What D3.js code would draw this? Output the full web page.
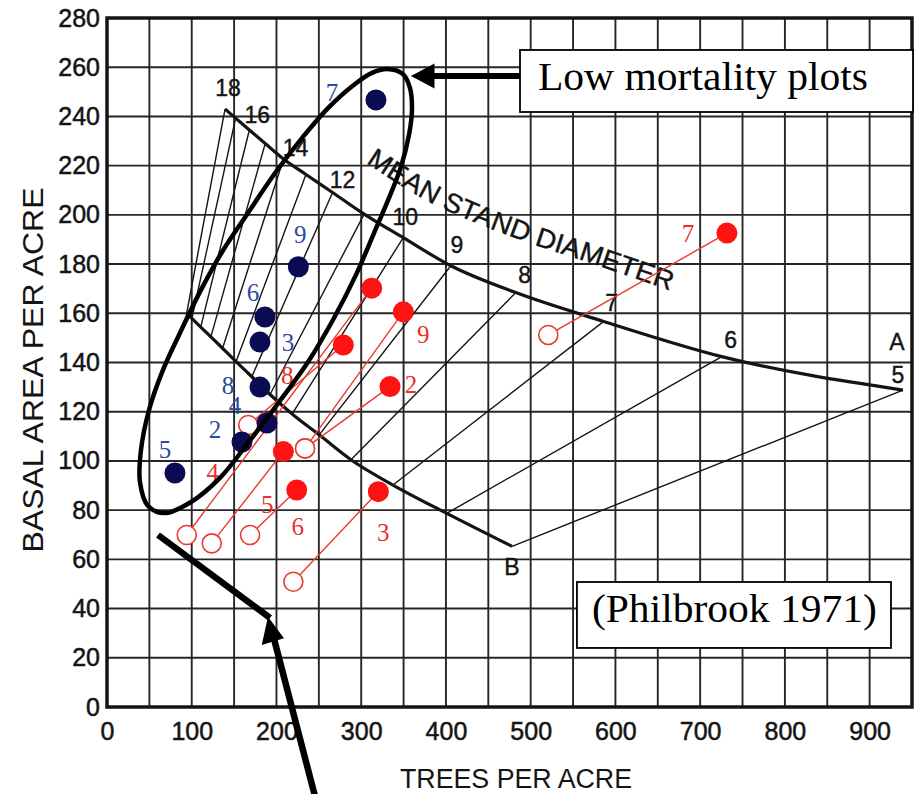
<!DOCTYPE html>
<html><head><meta charset="utf-8">
<script src="https://cdn.jsdelivr.net/npm/d3@7"></script>
<style>
html,body{margin:0;padding:0;background:#fff;}
svg{display:block;}
</style></head>
<body>
<svg id="chart" width="916" height="794"></svg>
<script>
// ---------- tick labels ----------
const xTicks = [0,100,200,300,400,500,600,700,800,900];
const yTicks = [0,20,40,60,80,100,120,140,160,180,200,220,240,260,280];

// ---------- stocking chart: mean stand diameter lines ----------
const diameters   = [5,6,7,8,9,10,11,12,13,14,15,16,17,18];
const upperTrees  = [939.3,725.5,586.2,482.4,405.8,349.6,303.5,266.2,234.8,208.3,186.7,168.0,151.8,139.3];
const upperBA     = [128.8,142.4,156.7,168.4,179.3,190.7,200.3,209.1,216.4,222.7,229.0,234.5,239.3,243.0];
const lowerTrees  = [478.0,401.0,337.5,287.9,250.4,218.5,192.4,170.9,152.3,136.4,122.6,110.6,100.2,94.0];
const lowerBA     = [65.3,78.7,90.2,100.5,110.6,119.1,127.0,134.2,140.4,145.8,150.4,154.4,157.9,160.0];
const labelledDiameters = [5,6,7,8,9,10,12,14,16,18];

// ---------- low mortality plots (blue) ----------
const bluePlots = ["7","9","6","3","8","4","2","5"];
const blueTrees = [317.4,225.8,186.4,180.5,180.5,188.8,159.3,80.2];
const blueBA    = [246.7,178.9,158.5,148.3,130.0,115.4,107.7,95.1];

// ---------- other plots (red): start (open) -> end (filled) ----------
const redPlots      = ["2","3","4","5","6","7","8","9"];
const redStartTrees = [233.7,219.9,94.1,123.6,168.8,520.8,166.7,233.7];
const redStartBA    = [105.1,50.9,69.9,66.5,69.9,151.2,114.6,105.1];
const redEndTrees   = [334.0,320.2,312.4,208.1,223.9,731.6,278.9,349.7];
const redEndBA      = [130.2,87.5,170.2,103.8,88.2,192.6,147.1,160.6];

// ---------- hand-drawn ellipse around low mortality plots ----------
const ellipseTrees = [330.4,349.3,357.6,359.9,356.4,346.9,332.8,315.1,293.8,267.9,237.2,203.0,166.4,133.3,99.1,68.4,48.4,38.9,40.1,49.6,66.1,86.1,109.7,135.7,166.4,199.4,230.1,260.8,292.7,312.7];
const ellipseBA    = [259.3,257.2,251.5,242.6,232.5,219.5,206.9,192.6,175.6,158.1,140.2,123.9,107.3,93.1,83.3,78.8,81.7,91.4,104.4,120.7,137.0,152.0,168.7,184.9,200.8,217.5,231.2,243.4,253.2,257.7];

// ---------- curved caption path ----------
const captionTrees = [305.6,382.1,489.5,572.5,667.9];
const captionBA    = [221.1,204.9,189.6,180.2,168.8];

// ---------- layout / style (not data) ----------
const W = 916, H = 794;
const sans = "'Liberation Sans', Arial, Helvetica, sans-serif";
const serif = "'Liberation Serif', 'Times New Roman', serif";
const ink = "#141414";
const blueDot = "#0b0b52", blueText = "#2c4a9e";
const redDot = "#ff1212", redLine = "#e83a30", redText = "#e8302c";

const blueLabelOffset = {"7":[-44,-7],"9":[2,-32],"6":[-12,-24],"3":[28,0],"8":[-32,-2],"4":[-32,-18],"2":[-27,-12],"5":[-10,-23]};
const redLabelOffset  = {"2":[21,-2],"3":[5,41],"4":[-159,184],"5":[-16,53],"6":[1,37],"7":[-39,0],"8":[-56,30],"9":[20,23]};
const diamLabelOffset = {18:[3,-21],16:[8,-15],14:[12,-11],12:[10,-12],10:[2,-21],9:[6,-21],8:[9,-18],7:[8,-18],6:[9,-17],5:[-5,-15]};

const svg = d3.select("#chart");
svg.append("rect").attr("width",W).attr("height",H).attr("fill","#fff");

const x = d3.scaleLinear().domain([0,950]).range([107,912]);
const y = d3.scaleLinear().domain([0,280]).range([707,18]);

// grid
const grid = svg.append("g").attr("stroke","#262626").attr("stroke-width",1.9);
grid.selectAll("line.gx").data(d3.range(50,950,50)).join("line")
  .attr("x1",d=>x(d)).attr("x2",d=>x(d)).attr("y1",y(0)).attr("y2",y(280));
grid.selectAll("line.gy").data(d3.range(20,280,20)).join("line")
  .attr("x1",x(0)).attr("x2",x(950)).attr("y1",d=>y(d)).attr("y2",d=>y(d));

// frame
svg.append("rect").attr("x",x(0)).attr("y",y(280)).attr("width",x(950)-x(0)).attr("height",y(0)-y(280))
  .attr("fill","none").attr("stroke",ink).attr("stroke-width",3.5);

// axes labels
const gx = svg.append("g").attr("transform",`translate(0,${y(0)})`)
  .call(d3.axisBottom(x).tickValues(xTicks).tickSize(0).tickPadding(15));
gx.select(".domain").remove();
gx.selectAll("text").attr("font-family",sans).attr("font-size",25).attr("fill",ink)
  .attr("stroke",ink).attr("stroke-width",0.5);

const gy = svg.append("g").attr("transform",`translate(${x(0)},0)`)
  .call(d3.axisLeft(y).tickValues(yTicks).tickSize(0).tickPadding(7));
gy.select(".domain").remove();
gy.selectAll("text").attr("font-family",sans).attr("font-size",25).attr("fill",ink)
  .attr("stroke",ink).attr("stroke-width",0.5);

svg.append("text").attr("x",516).attr("y",788).attr("text-anchor","middle")
  .attr("font-family",sans).attr("font-size",27).attr("fill",ink)
  .attr("textLength",232).attr("lengthAdjust","spacingAndGlyphs").text("TREES PER ACRE");
svg.append("text").attr("transform","translate(43,370) rotate(-90)").attr("text-anchor","middle")
  .attr("font-family",sans).attr("font-size",29).attr("fill",ink)
  .attr("textLength",365).attr("lengthAdjust","spacingAndGlyphs").text("BASAL AREA PER ACRE");

// diameter lines
const dl = diameters.map((d,i)=>({d, ut:upperTrees[i], ub:upperBA[i], lt:lowerTrees[i], lb:lowerBA[i]}));
svg.append("g").selectAll("line").data(dl).join("line")
  .attr("x1",d=>x(d.lt)).attr("y1",d=>y(d.lb)).attr("x2",d=>x(d.ut)).attr("y2",d=>y(d.ub))
  .attr("stroke",ink).attr("stroke-width",1.4);

// A-line and B-line
const line = d3.line().x(d=>x(d[0])).y(d=>y(d[1])).curve(d3.curveMonotoneX);
const aPts = dl.map(d=>[d.ut,d.ub]).sort((a,b)=>a[0]-b[0]);
const bPts = dl.map(d=>[d.lt,d.lb]).sort((a,b)=>a[0]-b[0]);
svg.append("path").attr("d",line(aPts)).attr("fill","none").attr("stroke",ink).attr("stroke-width",3.2);
svg.append("path").attr("d",line(bPts)).attr("fill","none").attr("stroke",ink).attr("stroke-width",3.2);

// diameter labels
svg.append("g").selectAll("text").data(dl.filter(d=>labelledDiameters.includes(d.d))).join("text")
  .attr("x",d=>x(d.ut)+diamLabelOffset[d.d][0]).attr("y",d=>y(d.ub)+diamLabelOffset[d.d][1])
  .attr("text-anchor","middle").attr("dominant-baseline","central")
  .attr("font-family",sans).attr("font-size",23).attr("fill",ink).attr("stroke",ink).attr("stroke-width",0.4).text(d=>d.d);
svg.append("text").attr("x",x(upperTrees[0])-6).attr("y",y(upperBA[0])-48).attr("text-anchor","middle")
  .attr("dominant-baseline","central").attr("font-family",sans).attr("font-size",23).attr("fill",ink)
  .attr("stroke",ink).attr("stroke-width",0.4).text("A");
svg.append("text").attr("x",x(lowerTrees[0])).attr("y",y(lowerBA[0])+21).attr("text-anchor","middle")
  .attr("dominant-baseline","central").attr("font-family",sans).attr("font-size",23).attr("fill",ink)
  .attr("stroke",ink).attr("stroke-width",0.4).text("B");

// curved caption
const capLine = d3.line().x(d=>x(d[0])).y(d=>y(d[1])).curve(d3.curveCatmullRom);
const capPath = svg.append("path").attr("id","capPath")
  .attr("d",capLine(captionTrees.map((t,i)=>[t,captionBA[i]]))).attr("fill","none").attr("stroke","none");
const capLen = capPath.node().getTotalLength();
svg.append("text").attr("font-family",sans).attr("font-size",27).attr("fill",ink)
  .attr("stroke",ink).attr("stroke-width",0.4)
  .append("textPath").attr("href","#capPath").attr("textLength",capLen*0.99).attr("lengthAdjust","spacingAndGlyphs")
  .text("MEAN STAND DIAMETER");

// red plots
const red = redPlots.map((p,i)=>({p, st:redStartTrees[i], sb:redStartBA[i], et:redEndTrees[i], eb:redEndBA[i]}));
svg.append("g").selectAll("line").data(red).join("line")
  .attr("x1",d=>x(d.st)).attr("y1",d=>y(d.sb)).attr("x2",d=>x(d.et)).attr("y2",d=>y(d.eb))
  .attr("stroke",redLine).attr("stroke-width",1.4);
svg.append("g").selectAll("circle").data(red).join("circle")
  .attr("cx",d=>x(d.st)).attr("cy",d=>y(d.sb)).attr("r",9.5)
  .attr("fill","#fff").attr("stroke",redLine).attr("stroke-width",1.6);
svg.append("g").selectAll("circle").data(red).join("circle")
  .attr("cx",d=>x(d.et)).attr("cy",d=>y(d.eb)).attr("r",10.5).attr("fill",redDot);
svg.append("g").selectAll("text").data(red).join("text")
  .attr("x",d=>x(d.et)+redLabelOffset[d.p][0]).attr("y",d=>y(d.eb)+redLabelOffset[d.p][1])
  .attr("text-anchor","middle").attr("dominant-baseline","central")
  .attr("font-family",serif).attr("font-size",25).attr("fill",redText).text(d=>d.p);

// blue plots
const blue = bluePlots.map((p,i)=>({p, t:blueTrees[i], b:blueBA[i]}));
svg.append("g").selectAll("circle").data(blue).join("circle")
  .attr("cx",d=>x(d.t)).attr("cy",d=>y(d.b)).attr("r",10.5).attr("fill",blueDot);
svg.append("g").selectAll("text").data(blue).join("text")
  .attr("x",d=>x(d.t)+blueLabelOffset[d.p][0]).attr("y",d=>y(d.b)+blueLabelOffset[d.p][1])
  .attr("text-anchor","middle").attr("dominant-baseline","central")
  .attr("font-family",serif).attr("font-size",25).attr("fill",blueText).text(d=>d.p);

// ellipse
const ell = d3.line().x(d=>x(d[0])).y(d=>y(d[1])).curve(d3.curveCatmullRomClosed.alpha(0.5));
svg.append("path").attr("d",ell(ellipseTrees.map((t,i)=>[t,ellipseBA[i]])))
  .attr("fill","none").attr("stroke","#000").attr("stroke-width",4.5);

// annotations (in data units)
const ann = svg.append("g");
// top arrow to box
ann.append("line").attr("x1",x(487.4)).attr("y1",y(256.4)).attr("x2",x(383)).attr("y2",y(256.4))
  .attr("stroke","#000").attr("stroke-width",6);
ann.append("path").attr("d",d3.line()([[x(358.7),y(256.4)],[x(386.5),y(261.5)],[x(386.5),y(251.3)]])+"Z").attr("fill","#000");
// low mortality box
ann.append("rect").attr("x",x(487.4)).attr("y",y(267)).attr("width",x(951.2)-x(487.4)).attr("height",y(241.8)-y(267))
  .attr("fill","#fff").attr("stroke","#000").attr("stroke-width",1.8);
ann.append("text").attr("x",x(508.6)).attr("y",y(250.7)).attr("font-family",serif).attr("font-size",41)
  .attr("fill","#000").attr("textLength",330).attr("lengthAdjust","spacingAndGlyphs").text("Low mortality plots");
// Philbrook box
ann.append("rect").attr("x",x(554.6)).attr("y",y(50.8)).attr("width",x(925.2)-x(554.6)).attr("height",y(24)-y(50.8))
  .attr("fill","#fff").attr("stroke","#000").attr("stroke-width",1.8);
ann.append("text").attr("x",x(572.3)).attr("y",y(34.5)).attr("font-family",serif).attr("font-size",41)
  .attr("fill","#000").attr("textLength",285).attr("lengthAdjust","spacingAndGlyphs").text("(Philbrook 1971)");
// bottom thick line and arrow
ann.append("line").attr("x1",x(60.2)).attr("y1",y(69.9)).attr("x2",x(192.4)).attr("y2",y(36.2))
  .attr("stroke","#000").attr("stroke-width",6.5);
ann.append("line").attr("x1",x(246.6)).attr("y1",y(-37.8)).attr("x2",x(196.5)).attr("y2",y(28.5))
  .attr("stroke","#000").attr("stroke-width",6.5);
ann.append("path").attr("d",d3.line()([[x(190.0),y(36.7)],[x(182.6),y(25.2)],[x(208.9),y(27.9)]])+"Z").attr("fill","#000");
</script>
</body></html>
